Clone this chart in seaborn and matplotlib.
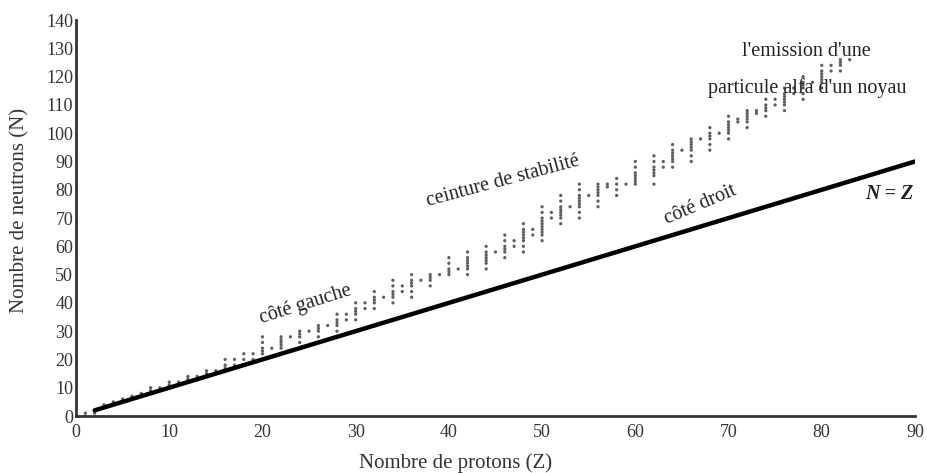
import pandas as pd
import numpy as np
import seaborn as sns
import matplotlib.pyplot as plt

# noyaux stables : Z et les valeurs de N pour chaque Z
z_values = list(range(1, 84))
n_values = [
    [0, 1], [1, 2], [3, 4], [5], [5, 6], [6, 7], [7, 8], [8, 9, 10], [10],
    [10, 11, 12], [12], [12, 13, 14], [14], [14, 15, 16], [16], [16, 17, 18, 20],
    [18, 20], [18, 20, 22], [20, 22], [20, 22, 23, 24, 26, 28], [24],
    [24, 25, 26, 27, 28], [28], [26, 28, 29, 30], [30], [28, 30, 31, 32], [32],
    [30, 32, 33, 34, 36], [34, 36], [34, 36, 37, 38, 40], [38, 40],
    [38, 40, 41, 42, 44], [42], [40, 42, 43, 44, 46, 48], [44, 46],
    [42, 44, 46, 47, 48, 50], [48], [46, 48, 49, 50], [50], [50, 51, 52, 54, 56],
    [52], [50, 52, 53, 54, 55, 56, 58], [], [52, 54, 55, 56, 57, 58, 60], [58],
    [56, 58, 59, 60, 62, 64], [60, 62], [58, 60, 62, 63, 64, 65, 66, 68], [64, 66],
    [62, 64, 65, 66, 67, 68, 69, 70, 72, 74], [70, 72],
    [68, 70, 71, 72, 73, 74, 76, 78], [74], [70, 72, 74, 75, 76, 77, 78, 80, 82],
    [78], [74, 76, 78, 79, 80, 81, 82], [81, 82], [78, 80, 82, 84], [82],
    [82, 83, 84, 85, 86, 88, 90], [], [82, 85, 86, 87, 88, 90, 92], [88, 90],
    [88, 90, 91, 92, 93, 94, 96], [94], [90, 92, 94, 95, 96, 97, 98], [98],
    [94, 96, 98, 99, 100, 102], [100], [98, 100, 101, 102, 103, 104, 106],
    [104, 105], [102, 104, 105, 106, 107, 108], [107, 108],
    [106, 108, 109, 110, 112], [110, 112], [108, 110, 111, 112, 113, 114, 116],
    [114, 116], [112, 114, 116, 117, 118, 120], [118],
    [116, 118, 119, 120, 121, 122, 124], [122, 124], [122, 124, 125, 126], [126],
]

line_z = [2, 90]
line_n = [2, 90]

x_ticks = list(range(0, 91, 10))
y_ticks = list(range(0, 141, 10))

rows = [(z, n) for z, ns in zip(z_values, n_values) for n in ns]
df = pd.DataFrame(rows, columns=['Z', 'N'])
df_line = pd.DataFrame({'Z': line_z, 'N': line_n})

sns.set_style('white')
plt.rcParams['font.family'] = ['Liberation Serif', 'DejaVu Serif']

fig = plt.figure(figsize=(9.27, 4.73), dpi=100)
ax = fig.add_axes([0.082, 0.1205, 0.905, 0.837])

sns.scatterplot(data=df, x='Z', y='N', ax=ax, marker='o', s=5.5, color='#5e5e5e',
                edgecolor='none', zorder=2)
sns.lineplot(data=df_line, x='Z', y='N', ax=ax, color='black', linewidth=3.2, zorder=3)

ax.set_xlim(0, 90)
ax.set_ylim(0, 140)
ax.set_xticks(x_ticks)
ax.set_yticks(y_ticks)
ax.tick_params(length=0, labelsize=13, pad=2, colors='#333333')
ax.tick_params(axis='x', pad=6)
for s in ['top', 'right']:
    ax.spines[s].set_visible(False)
for s in ['left', 'bottom']:
    ax.spines[s].set_color('#333333')
    ax.spines[s].set_linewidth(2)

ax.set_xlabel('Nombre de protons (Z)', fontsize=15, color='#333333')
ax.set_ylabel('Nombre de neutrons (N)', fontsize=15, color='#333333')
ax.xaxis.set_label_coords(0.453, -0.095)
ax.yaxis.set_label_coords(-0.056, 0.52)

txt = dict(fontsize=14.5, color='#222222', ha='center', va='center')
ax.text(24.6, 39.4, 'côté gauche', rotation=17.5, **txt)
ax.text(45.8, 83, 'ceinture de stabilité', rotation=15, **txt)
ax.text(67, 74.6, 'côté droit', rotation=23, **txt)
ax.text(78.4, 129, "l'emission d'une", **txt)
ax.text(78.4, 116, "particule alfa d'un noyau", **txt)
ax.text(87.3, 78.5, 'N = Z', fontsize=14.5, color='#222222', ha='center',
        va='center', fontweight='bold', fontstyle='italic')

plt.savefig('out.png', dpi=100)
plt.close()
